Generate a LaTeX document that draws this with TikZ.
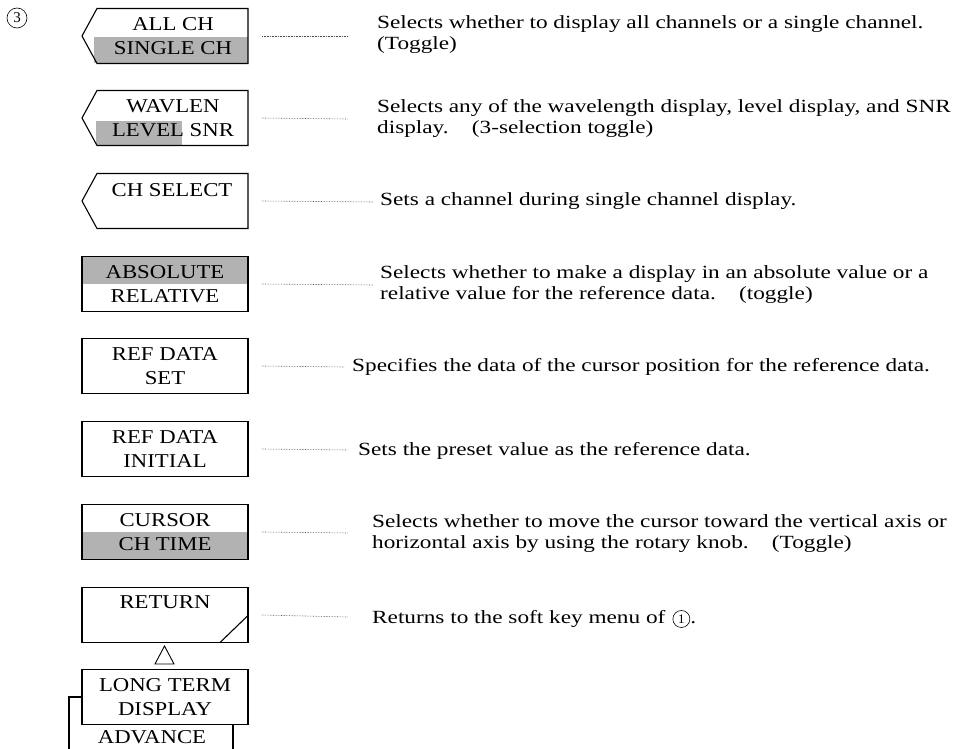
\documentclass[tikz,border=0pt]{standalone}
\usepackage{fontspec}
\usepackage{graphicx}
\setmainfont{Liberation Serif}
\usetikzlibrary{calc}
\newcommand{\kl}[1]{\scalebox{1.16}[1]{#1}}
\newcommand{\dl}[1]{\scalebox{1.25}[1]{#1}}
\begin{document}
\begin{tikzpicture}[x=1pt,y=-1pt,
  keyframe/.style={minimum width=166pt, minimum height=55pt, inner sep=0pt, outer sep=0pt},
  keyborder/.style={draw=black, line width=1.1pt},
  keylabel/.style={font=\fontsize{19.6}{24}\selectfont, align=center, inner sep=0pt},
  desc/.style={font=\fontsize{18.6}{21}\selectfont, align=left, anchor=west, inner sep=0pt},
  circnum/.style={circle, draw=black, line width=0.6pt, inner sep=0pt},
  leader/.style={black!70, densely dotted, line width=0.6pt},
  shade/.style={fill=black!30}
]
\useasboundingbox (0,0) rectangle (958,749);

% highlights
\fill[shade] (94,37) rectangle (248,63);
\fill[shade] (96,121) rectangle (182,145);
\fill[shade] (82,257) rectangle (248,284);
\fill[shade] (82,532) rectangle (248,560);

% key frames
\node[keyframe] (b1) at (165,36) {};
\node[keyframe] (b2) at (165,118) {};
\node[keyframe] (b3) at (165,201) {};
\node[keyframe, keyborder] (b4) at (165,284) {};
\node[keyframe, keyborder] (b5) at (165,366) {};
\node[keyframe, keyborder] (b6) at (165,449) {};
\node[keyframe, keyborder] (b7) at (165,532) {};
\node[keyframe, keyborder] (b8) at (165,615) {};
\node[keyframe, keyborder] (b9) at (165,697) {};

\foreach \b in {b1,b2,b3}{
  \draw[keyborder] ($(\b.north west)+(15,0)$) -- (\b.north east) -- (\b.south east)
     -- ($(\b.south west)+(15,0)$) -- (\b.west) -- cycle;
}

% labels
\node[keylabel] (t1) at (173,36) {\kl{ALL CH}\\\kl{SINGLE CH}};
\node[keylabel] (t2) at (173,118) {\kl{WAVLEN}\\\kl{LEVEL SNR}};
\node[keylabel] (t3) at (172,190) {\kl{CH SELECT}};
\node[keylabel] (t4) at (165,284) {\kl{ABSOLUTE}\\\kl{RELATIVE}};
\node[keylabel] (t5) at (165,366) {\kl{REF DATA}\\\kl{SET}};
\node[keylabel] (t6) at (165,449) {\kl{REF DATA}\\\kl{INITIAL}};
\node[keylabel] (t7) at (165,532) {\kl{CURSOR}\\\kl{CH TIME}};
\node[keylabel] (t8) at (165,602) {\kl{RETURN}};
\node[keylabel] (t9) at (165,697) {\kl{LONG TERM}\\\kl{DISPLAY}};
\node[keylabel] (t10) at (152,737) {\kl{ADVANCE}};

% return mark and triangle
\draw[keyborder] ($(b8.south east)+(-28,0)$) -- ($(b8.south east)+(0,-27)$);
\draw[line width=0.9pt] (155,664) -- (164.5,646) -- (174,664) -- cycle;

% bottom bracket lines
\coordinate (lb) at (69,752);
\coordinate (rb) at (233,752);
\draw[keyborder] (b9.west) -- (69,697) -- (lb);
\draw[keyborder] (233,725) -- (rb);

% circled number
\node[circnum, minimum size=20pt, font=\fontsize{15}{15}\selectfont] (n3) at (17,18) {3};

% descriptions
\node[desc] (d1) at (377,35) {\dl{Selects whether to display all channels or a single channel.}\\\dl{(Toggle)}};
\node[desc] (d2) at (377,118) {\dl{Selects any of the wavelength display, level display, and SNR}\\\dl{display.\quad (3-selection toggle)}};
\node[desc] (d3) at (380,201) {\dl{Sets a channel during single channel display.}};
\node[desc] (d4) at (380,285) {\dl{Selects whether to make a display in an absolute value or a}\\\dl{relative value for the reference data.\quad (toggle)}};
\node[desc] (d5) at (352,367) {\dl{Specifies the data of the cursor position for the reference data.}};
\node[desc] (d6) at (358,451) {\dl{Sets the preset value as the reference data.}};
\node[desc] (d7) at (372,534) {\dl{Selects whether to move the cursor toward the vertical axis or}\\\dl{horizontal axis by using the rotary knob.\quad (Toggle)}};
\node[desc] (d8) at (372,619) {\dl{Returns to the soft key menu of}};
\node[circnum, minimum size=17pt, font=\fontsize{13}{13}\selectfont, anchor=west] (c1) at ([xshift=7pt]d8.east) {1};
\node[desc, anchor=base west] (d8b) at (c1.east |- d8.base) {\dl{.}};

% leader lines
\coordinate (e1) at (348,36);
\coordinate (e2) at (348,119);
\coordinate (e3) at (373,202);
\coordinate (e4) at (373,285);
\coordinate (e5) at (345,367);
\coordinate (e6) at (347,450);
\coordinate (e7) at (348,533);
\coordinate (e8) at (348,617);
\foreach \i in {1,...,8}{
  \draw[leader] ([xshift=14pt]b\i.east) -- (e\i);
}
\end{tikzpicture}
\end{document}
